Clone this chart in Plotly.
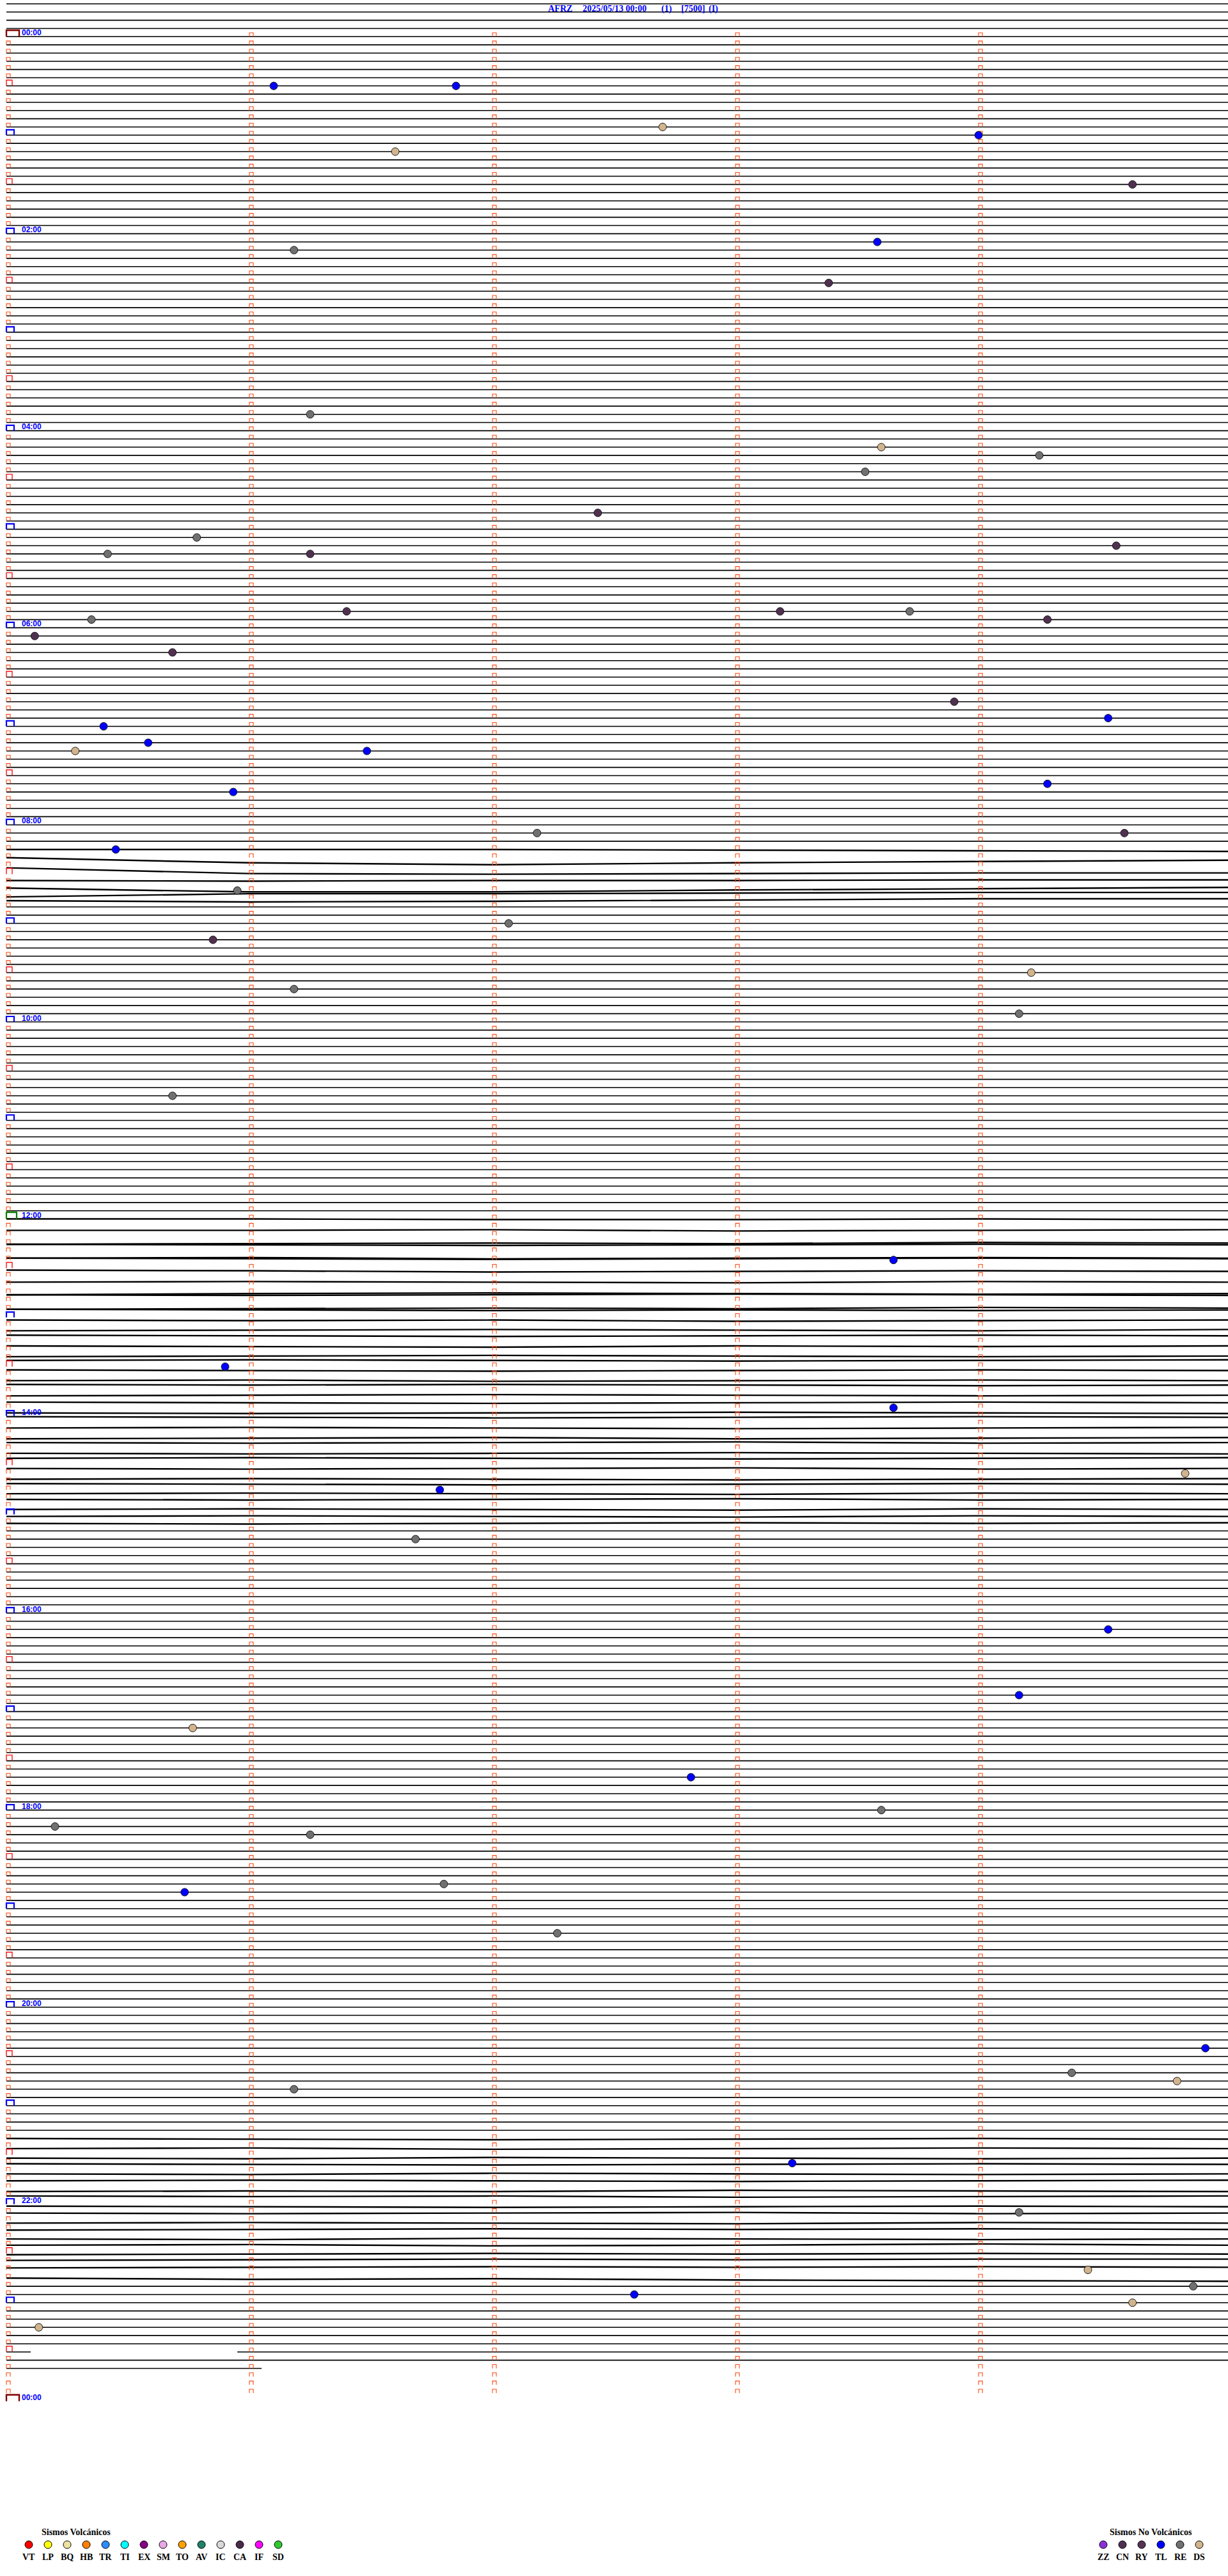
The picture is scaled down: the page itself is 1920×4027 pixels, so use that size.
import plotly.graph_objects as go

# ---------------- page / helicorder geometry ----------------
W, H = 1920, 4027
ROW0_PX = 57.3      # pixel y of the 00:00 line
ROW_PX = 12.835     # pixel spacing between 5-minute lines
X0_PX = 10          # pixel x of minute 0
MIN_PX = 380        # pixels per minute

def xm(px):   # pixel x -> minutes
    return (px - X0_PX) / MIN_PX

def yr(py):   # pixel y -> row
    return (py - ROW0_PX) / ROW_PX

X_MIN, X_MAX = xm(0), xm(W)
Y_TOP, Y_BOT = yr(0), yr(H)

# ---------------- data ----------------
station = "AFRZ"
date_label = "2025/05/13 00:00"
title_extra = ["(1)", "[7500]", "(I)"]

minutes_per_row = 5
first_row = -4            # rows of the previous day shown above 00:00
data_end = "23:41:03"     # last sample time
data_gaps = [("23:30:06", "23:30:57")]
hour_labels = ["00:00", "02:00", "04:00", "06:00", "08:00", "10:00", "12:00",
               "14:00", "16:00", "18:00", "20:00", "22:00", "00:00"]

event_times = [
    "00:31:06", "00:31:51", "00:57:42", "01:04:00", "01:11:36", "01:34:38",
    "02:11:11", "02:08:35", "02:33:23", "03:51:15", "04:13:36", "04:19:15",
    "04:28:32", "04:52:26", "05:05:47", "05:15:25", "05:16:15", "05:14:34",
    "05:51:24", "05:53:11", "05:53:43", "05:59:17", "05:55:21", "06:05:07",
    "06:15:41", "06:48:54", "07:00:24", "06:59:32", "07:10:35", "07:15:17",
    "07:16:29", "07:39:17", "07:40:56", "08:07:11", "08:09:36", "08:15:27",
    "08:40:57", "09:02:04", "09:10:51", "09:41:11", "09:34:13", "09:59:10",
    "10:45:41", "12:28:39", "13:30:54", "13:58:39", "14:39:51", "14:46:47",
    "15:16:41", "16:14:32", "16:54:10", "17:10:46", "17:42:49", "18:03:36",
    "18:10:12", "18:16:15", "18:50:44", "18:46:48", "19:17:16", "20:29:56",
    "20:44:23", "20:49:49", "20:51:11", "21:38:14", "22:09:10", "22:44:27",
    "22:54:53", "22:57:35", "23:04:38", "23:15:08",
]
event_types = [
    "TL", "TL", "DS", "TL", "DS", "CN",
    "RE", "TL", "CN", "RE", "DS", "RE",
    "RE", "CN", "RE", "RE", "CN", "CN",
    "CN", "CN", "RE", "CN", "RE", "CN",
    "CN", "CN", "TL", "TL", "TL", "DS",
    "TL", "TL", "TL", "RE", "CN", "TL",
    "RE", "RE", "CN", "RE", "DS", "RE",
    "RE", "TL", "TL", "TL", "DS", "TL",
    "RE", "TL", "TL", "DS", "TL", "RE",
    "RE", "RE", "TL", "RE", "RE", "TL",
    "RE", "DS", "RE", "TL", "RE", "DS",
    "RE", "TL", "DS", "DS",
]

volc_codes = ["VT", "LP", "BQ", "HB", "TR", "TI", "EX", "SM", "TO", "AV", "IC", "CA", "IF", "SD"]
volc_colors = ["#FF0000", "#FFFF00", "#EEE2A0", "#FF8000", "#2A8CFF", "#00FFFF", "#880088",
               "#E8A8E8", "#FFA000", "#208068", "#D8D8D8", "#4A2A48", "#FF00FF", "#30C830"]
nonvolc_codes = ["ZZ", "CN", "RY", "TL", "RE", "DS"]
nonvolc_colors = ["#8A30D8", "#503050", "#553355", "#0000FF", "#707070", "#D2B48C"]

# seismic trace offsets (pixels, downward) read once per minute (0..5) on the active rows
trace_offsets = {
    99:  [0, 0, 0, 1, 2, 3],
    100: [0, 8, 11, 8, 6, 4],
    101: [3, 12, 13, 12, 11, 11],
    102: [10, 11, 10, 10, 9, 9],
    103: [9, 15, 15, 12, 10, 8],
    104: [10, 5, 5, 4, 3, 3],
    105: [3, 5, 4, 2, 0, 0],
    144: [0, 0, 1, 1, 0, 1],
    145: [5, 5, 4, 6, 5, 4],
    146: [14, 13, 12, 13, 11, 12],
    147: [1, 2, 3, 2, 1, 2],
    148: [10, 9, 11, 10, 9, 10],
    149: [-3, -2, -1, -2, -3, -2],
    150: [3, 4, 6, 5, 4, 5],
    151: [9, 8, 9, 10, 8, 9],
    152: [16, 14, 13, 14, 15, 14],
    153: [3, 4, 3, 2, 3, 4],
    154: [13, 12, 11, 12, 10, 11],
    155: [0, 1, 2, 1, 2, 1],
    156: [4, 5, 4, 6, 5, 4],
    157: [8, 7, 6, 7, 8, 6],
    158: [2, 3, 4, 3, 2, 3],
    159: [6, 7, 8, 6, 7, 6],
    160: [10, 9, 8, 9, 10, 9],
    161: [3, 2, 3, 4, 3, 2],
    162: [5, 6, 7, 6, 5, 6],
    163: [9, 8, 10, 9, 8, 9],
    164: [2, 3, 2, 3, 4, 3],
    165: [7, 6, 5, 6, 7, 6],
    166: [4, 5, 6, 5, 4, 5],
    167: [8, 9, 8, 7, 8, 9],
    168: [1, 2, 3, 2, 1, 2],
    169: [6, 5, 6, 7, 6, 5],
    170: [10, 9, 8, 10, 9, 8],
    171: [3, 4, 3, 2, 4, 3],
    172: [7, 8, 7, 6, 7, 8],
    173: [2, 1, 2, 3, 2, 1],
    174: [5, 6, 5, 4, 6, 5],
    175: [9, 8, 9, 10, 9, 8],
    176: [3, 4, 5, 4, 3, 4],
    177: [6, 5, 6, 7, 5, 6],
    178: [2, 3, 2, 1, 3, 2],
    179: [5, 4, 5, 6, 4, 5],
    180: [3, 2, 3, 4, 2, 3],
    181: [1, 2, 1, 0, 1, 0],
    256: [0, 1, 2, 1, 0, 1],
    257: [3, 2, 4, 3, 2, 3],
    258: [5, 6, 4, 5, 6, 5],
    259: [1, 2, 3, 2, 1, 2],
    260: [4, 5, 3, 4, 5, 4],
    261: [2, 1, 2, 3, 2, 1],
    262: [6, 5, 6, 4, 5, 6],
    263: [0, 1, 0, 2, 1, 0],
    264: [3, 4, 5, 4, 3, 4],
    265: [1, 2, 1, 0, 2, 1],
    266: [4, 3, 4, 5, 3, 4],
    267: [2, 1, 0, 1, 0, 1],
    268: [3, 4, 2, 3, 4, 3],
    269: [0, -1, 1, 0, -2, 0],
    270: [2, 1, 0, 1, 0, 1],
    271: [-2, -3, -4, -3, -4, -4],
    272: [-3, -4, -5, -4, -5, -4],
    273: [0, 2, 1, 3, 4, 5],
}

# ---------------- helpers ----------------
def t2min(t):
    h, m, s = (int(v) for v in t.split(":"))
    return h * 60 + m + s / 60.0

def t2pos(t):
    tm = t2min(t)
    row = int(tm // minutes_per_row)
    return tm - row * minutes_per_row, row

type_color = dict(zip(volc_codes, volc_colors))
type_color.update(dict(zip(nonvolc_codes, nonvolc_colors)))

fig = go.Figure()

# ---------------- trace lines ----------------
end_x, end_row = t2pos(data_end)
gaps = [(t2pos(a), t2pos(b)) for a, b in data_gaps]

flat_x, flat_y = [], []
act_x, act_y = [], []
for r in range(first_row, end_row + 1):
    segs = [(0.0, X_MAX)]
    if r == end_row:
        segs = [(0.0, end_x)]
    for (ga, gr), (gb, _) in gaps:
        if gr == r:
            new = []
            for a, b in segs:
                if b <= ga or a >= gb:
                    new.append((a, b))
                else:
                    if a < ga:
                        new.append((a, ga))
                    if b > gb:
                        new.append((gb, b))
            segs = new
    if r in trace_offsets:
        offs = trace_offsets[r]
        n = len(offs) - 1
        xs = [minutes_per_row * i / n for i in range(n + 1)]
        xs[-1] = X_MAX
        act_x += xs + [None]
        act_y += [r + o / ROW_PX for o in offs] + [None]
    else:
        for a, b in segs:
            flat_x += [a, b, None]
            flat_y += [r, r, None]

fig.add_trace(go.Scatter(x=flat_x, y=flat_y, mode="lines",
                         line=dict(color="#000000", width=1.6), hoverinfo="skip"))
fig.add_trace(go.Scatter(x=act_x, y=act_y, mode="lines",
                         line=dict(color="#000000", width=2.4), hoverinfo="skip"))

# ---------------- minute tick boxes ----------------
n_rows_day = 24 * 60 // minutes_per_row
tw, th = 6 / MIN_PX, 6 / ROW_PX
ox, oy = [], []
for r in range(0, n_rows_day):
    for c in range(minutes_per_row):
        if c == 0 and r % 6 == 0:
            continue
        ox += [c, c, c + tw, c + tw, None]
        oy += [r, r - th, r - th, r, None]
fig.add_trace(go.Scatter(x=ox, y=oy, mode="lines",
                         line=dict(color="#FF4A10", width=1.1), hoverinfo="skip"))

def box(rows, wpx, hpx, color, width):
    bx, by = [], []
    for r in rows:
        bx += [0, 0, wpx / MIN_PX, wpx / MIN_PX, None]
        by += [r, r - hpx / ROW_PX, r - hpx / ROW_PX, r, None]
    fig.add_trace(go.Scatter(x=bx, y=by, mode="lines",
                             line=dict(color=color, width=width), hoverinfo="skip"))

half_rows = [r for r in range(6, n_rows_day, 12)]
hour_rows = [r for r in range(12, n_rows_day, 12) if r != n_rows_day // 2]
box(half_rows, 9, 9, "#FF1010", 1.4)
box(hour_rows, 12, 8.5, "#0000FF", 2.2)
box([n_rows_day // 2], 16, 10.5, "#008000", 2.2)
box([0, n_rows_day], 20, 10, "#800000", 2.4)

# ---------------- events ----------------
ev_x, ev_y, ev_c = [], [], []
for t, k in zip(event_times, event_types):
    x, r = t2pos(t)
    ev_x.append(x)
    ev_y.append(r)
    ev_c.append(type_color[k])
fig.add_trace(go.Scatter(x=ev_x, y=ev_y, mode="markers",
                         marker=dict(size=12, color=ev_c, line=dict(color="#1A1A1A", width=1)),
                         hoverinfo="skip"))

# ---------------- texts ----------------
ann = []
for i, lab in enumerate(hour_labels):
    r = i * 24
    ann.append(dict(x=xm(32), y=r - 6 / ROW_PX, text="<b>%s</b>" % lab, xanchor="left",
                    yanchor="middle", showarrow=False,
                    font=dict(family="Liberation Sans", size=12, color="#0000FF")))

title_texts = [station, date_label] + title_extra
title_px = [855, 909, 1032, 1063, 1106]
for txt, px in zip(title_texts, title_px):
    ann.append(dict(x=xm(px), y=yr(13.5), text="<b>%s</b>" % txt, xanchor="left", yanchor="middle",
                    showarrow=False, font=dict(family="Liberation Serif", size=14, color="#0000FF")))

# legends
def legend_block(codes, colors, title, title_px, x0_px):
    lx = [xm(x0_px + 30 * i) for i in range(len(codes))]
    fig.add_trace(go.Scatter(x=lx, y=[yr(3978)] * len(codes), mode="markers",
                             marker=dict(size=12, color=colors, line=dict(color="#000000", width=1)),
                             hoverinfo="skip"))
    for x, c in zip(lx, codes):
        ann.append(dict(x=x, y=yr(3997), text="<b>%s</b>" % c, xanchor="center", yanchor="middle",
                        showarrow=False, font=dict(family="Liberation Serif", size=14, color="#000000")))
    ann.append(dict(x=xm(title_px), y=yr(3958), text="<b>%s</b>" % title, xanchor="left",
                    yanchor="middle", showarrow=False,
                    font=dict(family="Liberation Serif", size=14, color="#000000")))

legend_block(volc_codes, volc_colors, "Sismos Volcánicos", 63, 45)
legend_block(nonvolc_codes, nonvolc_colors, "Sismos No Volcánicos", 1733, 1725)

fig.update_layout(
    width=W, height=H, margin=dict(l=0, r=0, t=0, b=0),
    paper_bgcolor="#FFFFFF", plot_bgcolor="#FFFFFF", showlegend=False,
    xaxis=dict(range=[X_MIN, X_MAX], visible=False, fixedrange=True),
    yaxis=dict(range=[Y_BOT, Y_TOP], visible=False, fixedrange=True),
    annotations=ann,
)

fig.write_html("out.html", config={"displayModeBar": False},
               post_script="document.body.style.margin='0';document.body.style.overflow='hidden';")
